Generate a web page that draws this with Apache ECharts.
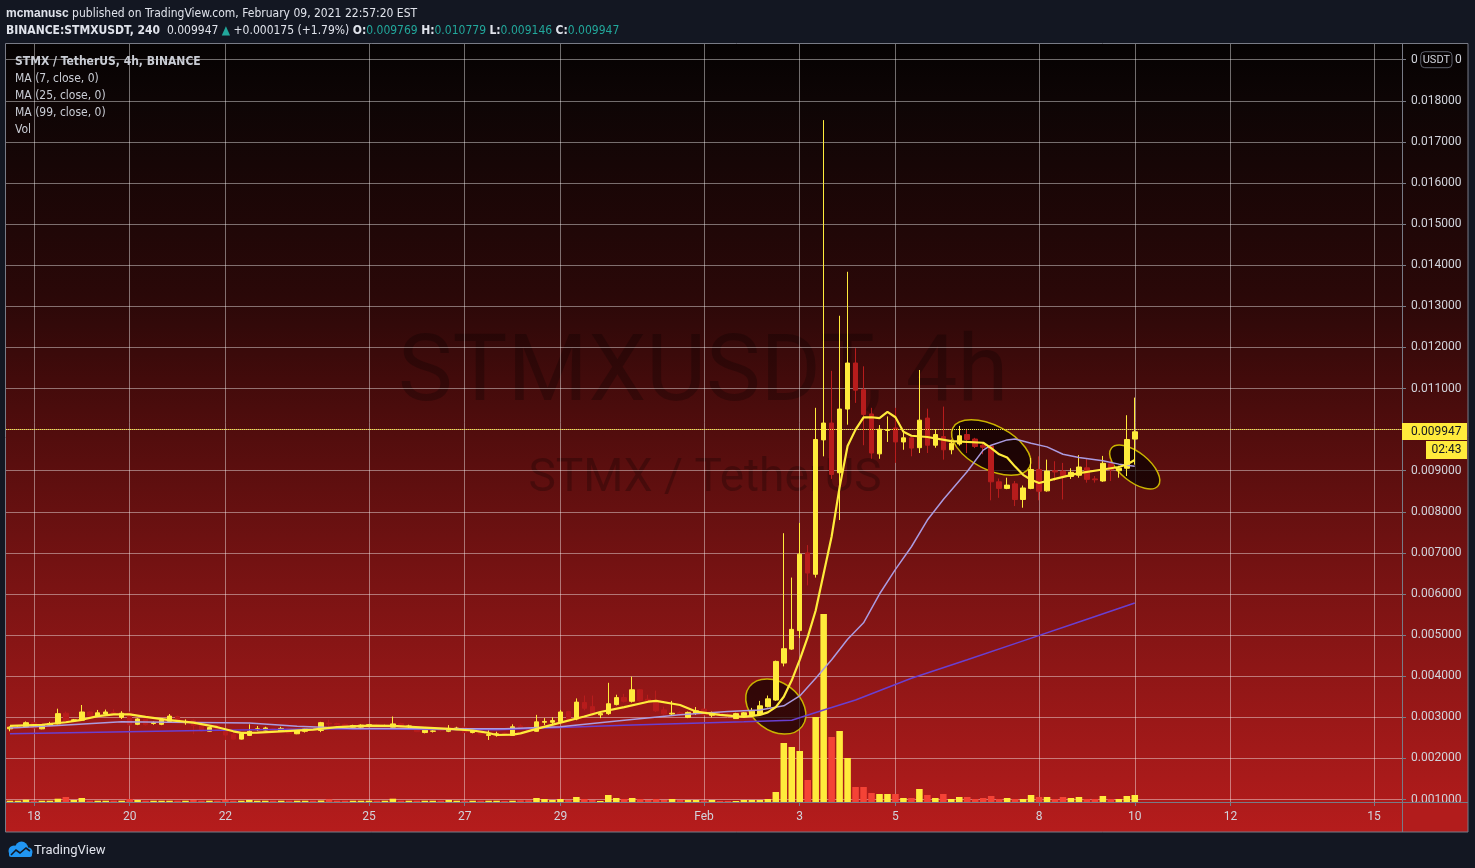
<!DOCTYPE html>
<html><head><meta charset="utf-8">
<script src="https://cdn.jsdelivr.net/npm/echarts@6/dist/echarts.min.js"></script>
<style>html,body{margin:0;padding:0;background:#131722;}#c{width:1475px;height:868px;}</style>
</head><body><div id="c"></div>
<script>
// ---------------- DATA ----------------
// 4h candles, first one = 2021-01-17 12:00 UTC
const opens = [.00272,.00275,.00277,.00287,.00272,.00281,.00284,.00310,.00292,.00293,.00313,.00303,.00308,.00312,.00300,.00310,.00283,.00296,.00285,.00283,.00290,.00302,.00287,.00293,.00280,.00266,.00280,.00269,.00259,.00247,
.00256,.00270,.00269,.00272,.00266,.00273,.00260,.00266,.00270,.00268,.00286,.00285,.00283,.00276,.00276,.00278,.00282,.00279,.00276,.00285,.00278,.00277,.00263,.00266,.00270,.00266,.00270,.00276,.00263,.00268,
.00256,.00258,.00262,.00256,.00279,.00275,.00266,.00288,.00288,.00289,.00314,.00296,.00336,.00326,.00306,.00309,.00331,.00348,.00339,.00367,.00344,.00340,.00318,.00308,.00311,.00300,.00310,.00320,.00305,.00310,
.00307,.00297,.00304,.00304,.00308,.00326,.00342,.00432,.00466,.00511,.00700,.00648,.00975,.01016,.00895,.01050,.01162,.01097,.01038,.00941,.00998,.01004,.00970,.00980,.00956,.01028,.00962,.00983,.00951,.00965,
.00988,.00977,.00962,.00960,.00873,.00857,.00868,.00830,.00857,.00903,.00851,.00900,.00899,.00886,.00889,.00907,.00880,.00875,.00917,.00900,.00906,.009769];
const closes = [.00276,.00276,.00287,.00274,.00281,.00285,.00309,.00290,.00294,.00313,.00303,.00311,.00313,.00307,.00310,.00282,.00296,.00282,.00287,.00293,.00303,.00288,.00289,.00280,.00267,.00275,.00270,.00257,.00247,.00260,
.00266,.00272,.00274,.00268,.00273,.00261,.00269,.00272,.00268,.00287,.00284,.00282,.00276,.00280,.00281,.00282,.00280,.00280,.00284,.00276,.00279,.00265,.00269,.00267,.00268,.00273,.00274,.00263,.00269,.00259,
.00258,.00260,.00259,.00277,.00273,.00266,.00289,.00290,.00292,.00313,.00295,.00337,.00322,.00306,.00309,.00333,.00348,.00339,.00367,.00341,.00340,.00316,.00308,.00310,.00307,.00312,.00316,.00306,.00310,.00306,
.00302,.00309,.00311,.00315,.00328,.00345,.00436,.00467,.00514,.00697,.00651,.00976,.01016,.00891,.01050,.01162,.01096,.01037,.00943,.01001,.01000,.00970,.00980,.00955,.01023,.00962,.00988,.00951,.00967,.00985,
.00976,.00959,.00957,.00873,.00857,.00865,.00830,.00858,.00903,.00850,.00899,.00897,.00888,.00896,.00909,.00879,.00878,.00918,.00902,.00906,.00976,.009947];
const lows = [.00266,.00274,.00276,.00271,.00271,.00279,.00283,.00288,.00290,.00292,.00301,.00302,.00307,.00305,.00296,.00280,.00281,.00280,.00282,.00281,.00288,.00286,.00282,.00259,.00265,.00265,.00268,.00245,.00246,.00246,
.00255,.00267,.00268,.00266,.00265,.00260,.00259,.00263,.00266,.00264,.00276,.00280,.00274,.00275,.00271,.00276,.00277,.00277,.00275,.00274,.00271,.00264,.00261,.00263,.00265,.00264,.00269,.00262,.00261,.00258,
.00245,.00253,.00257,.00255,.00271,.00265,.00265,.00281,.00283,.00286,.00293,.00293,.00317,.00303,.00298,.00306,.00329,.00336,.00336,.00338,.00337,.00313,.00304,.00304,.00303,.00298,.00306,.00304,.00300,.00304,
.00300,.00296,.00302,.00302,.00306,.00324,.00340,.00424,.00464,.00493,.00621,.00640,.00935,.00880,.00780,.01012,.01065,.00962,.00929,.00929,.00970,.00919,.00951,.00935,.00943,.00943,.00956,.00927,.00940,.00961,
.00943,.00955,.00940,.00828,.00834,.00855,.00814,.00810,.00855,.00828,.00849,.00875,.00830,.00880,.00883,.00871,.00871,.00873,.00875,.00883,.00887,.009146];
const highs = [.00278,.00278,.00290,.00289,.00282,.00289,.00321,.00314,.00296,.00330,.00315,.00318,.00319,.00320,.00315,.00314,.00298,.00297,.00290,.00295,.00308,.00304,.00295,.00295,.00282,.00277,.00283,.00270,.00261,.00262,
.00283,.00279,.00277,.00274,.00277,.00275,.00270,.00274,.00272,.00289,.00294,.00287,.00285,.00282,.00283,.00283,.00285,.00282,.00302,.00287,.00282,.00278,.00271,.00273,.00273,.00281,.00277,.00277,.00270,.00270,
.00269,.00265,.00264,.00283,.00283,.00277,.00306,.00298,.00300,.00318,.00316,.00346,.00353,.00353,.00314,.00384,.00355,.00357,.00399,.00369,.00355,.00365,.00326,.00340,.00315,.00314,.00325,.00322,.00314,.00313,
.00310,.00311,.00313,.00323,.00340,.00353,.00438,.00748,.00640,.00773,.00719,.01053,.01753,.01143,.01277,.01384,.01198,.01154,.01053,.01011,.01032,.01053,.00992,.00982,.01145,.01051,.01001,.01056,.00976,.01009,
.01002,.00980,.00968,.00962,.00881,.00883,.00875,.00864,.00931,.00935,.00927,.00923,.00919,.00906,.00938,.00930,.00887,.00936,.00927,.00912,.01035,.010779];
// volume (relative units, millions)
const volumes = [1.3,1.3,2.3,1.3,1.3,1.3,3.3,5,2,4,1.3,1.3,1.3,1.3,1.3,3,2,1.3,1.3,1.3,1.3,1.3,1.3,2,1.3,1.3,1.3,2.3,1.3,1.3,
2,1.3,1.3,1.3,1.3,1.3,1.3,1.3,1.3,1.5,2.7,1.3,1.3,1.3,1.3,1.3,1.3,1.3,3.3,1.3,1.3,1.3,1.3,1.3,1.3,2,1.3,1.3,1.3,1.3,
1.3,1.3,1,1.3,1.7,1.7,4,3,2,3,2,5,3,2,1,7,4,3,4,3,2,3,2,3,2,2,2,1.5,2,1,
1,1,2,2,2,3,10,59,55,51,22,85,188,65,71,44,15,15,9,8,8,8,4,4,13,7,4,8,3,5,
5,3,4,6,3,4,3,3,7,5,5,3,5,4,5,3,3,6,3,3,6,7];
// moving averages: [candle index, price]
const ma7Pts = [[0,.00279],[4,.00282],[7,.00288],[9,.00294],[11,.00303],[13,.00307],[15,.00307],[17,.00301],[20,.00293],[23,.00287],[26,.00276],[28,.00266],[29,.00262],[31,.00263],[34,.00266],[38,.00270],[41,.00276],[45,.00280],[48,.00279],[52,.00275],[55,.00272],[58,.00268],[60,.00262],[61,.00257],[63,.00258],[64,.00261],[66,.00272],[69,.00287],[72,.00302],[74,.00313],[77,.00325],[80,.00338],[81,.00340],[84,.00330],[86,.00314],[89,.00306],[92,.00301],[94,.00306],[95,.00312],[96,.00325],[97,.00350],[98,.00390],[99,.00440],[100,.00495],[101,.00560],[102,.00650],[103,.00740],[104,.00860],[105,.00960],[106,.01000],[107,.01030],[108,.01030],[109,.01028],[110,.01043],[111,.01030],[112,.00995],[113,.00985],[115,.00982],[118,.00972],[122,.00968],[123,.00955],[124,.00940],[125,.00932],[126,.00910],[127,.00890],[128,.00878],[129,.00870],[131,.00880],[134,.00894],[137,.00903],[139,.00909],[140,.00915],[141,.00926]];
const ma25Pts = [[0,.00274],[6,.00280],[14,.00289],[20,.00288],[30,.00286],[36,.00278],[43,.00273],[49,.00273],[58,.00272],[62,.00272],[69,.00277],[77,.00293],[84,.00306],[90,.00314],[94,.00318],[97,.00328],[99,.00352],[101,.00395],[103,.00440],[105,.00490],[107,.00530],[109,.00600],[111,.00660],[113,.00715],[115,.00780],[117,.00830],[120,.00898],[122,.00950],[123,.00962],[125,.00975],[126,.00977],[128,.00967],[130,.00958],[132,.00940],[134,.00932],[137,.00924],[139,.00916],[141,.00911]];
const ma99Pts = [[0,.00260],[24,.00268],[40,.00272],[61,.00270],[77,.00281],[92,.00289],[98,.00293],[102,.00318],[106,.00342],[113,.00395],[120,.00440],[127,.00486],[134,.00532],[141,.00578]];
// x axis tick labels (category -> label)
const tickCats = ['01-18 00','01-20 00','01-22 00','01-25 00','01-27 00','01-29 00','02-01 00','02-03 00','02-05 00','02-08 00','02-10 00','02-12 00','02-15 00'];
const tickLabels = ['18','20','22','25','27','29','Feb','3','5','8','10','12','15'];
// price axis
const priceMin = 0.001, priceMax = 0.019, priceStep = 0.001;
// hand-drawn annotation ellipses: centre (candle index, price)
const annotIdx = [95.6, 123.2, 141.0];
const annotPrice = [0.003263, 0.009564, 0.00909];
const annotSize = [[33,24,37],[43,22,27],[30,14.5,39]]; // rx, ry (px), tilt deg

// ---------------- BUILD ----------------
const startMs = Date.UTC(2021,0,17,12);
const slotCount = 175;
const pad = n => String(n).padStart(2,'0');
const categories = [];
for (let i = 0; i < slotCount; i++) {
  const d = new Date(startMs + i*4*3600e3);
  categories.push(pad(d.getUTCMonth()+1)+'-'+pad(d.getUTCDate())+' '+pad(d.getUTCHours()));
}
const tickMap = {}; tickCats.forEach((c,k)=>tickMap[c]=tickLabels[k]);
const isTick = (idx, val) => tickMap[val] !== undefined;

const UP = '#ffeb3b', DOWN = '#b71c1c', VUP = '#ffeb3b', VDOWN = '#f44336';
const FONT = 'Roboto, "DejaVu Sans", sans-serif';
const NARROW = '"Liberation Sans Narrow", "DejaVu Sans Condensed", Roboto, sans-serif';
const TXT = '#d1d4dc';

const candleData = opens.map((o,i)=>[o, closes[i], lows[i], highs[i]]);
const volData = volumes.map((v,i)=>({value:v, itemStyle:{color: closes[i] >= opens[i] ? VUP : VDOWN}}));
const last = candleData.length - 1;

const GL = 6, GR = 73;
const chart = echarts.init(document.getElementById('c'), null, {renderer:'canvas'});
const option = {
  animation: false,
  backgroundColor: '#131722',
  grid: [
    {left: GL, right: GR, top: 43, bottom: 66},                 // candles
    {left: GL, right: GR, bottom: 66, height: 200},             // volume
    {left: GL, right: GR, top: 59.7, height: 739.8}             // price scale / horizontal grid
  ],
  xAxis: [
    {type:'category', gridIndex:0, data:categories, boundaryGap:true,
     axisLine:{show:false},
     axisTick:{show:true, alignWithLabel:true, interval:isTick, length:4, lineStyle:{color:'#787b86'}},
     axisLabel:{interval:isTick, formatter:v=>tickMap[v]||'', color:TXT, fontFamily:FONT, fontSize:12, margin:9},
     splitLine:{show:false}},
    {type:'category', gridIndex:1, data:categories, boundaryGap:true, show:false},
    {type:'category', gridIndex:2, data:categories, boundaryGap:true, show:false}
  ],
  yAxis: [
    {type:'value', gridIndex:0, min:0.00094, max:0.019406, show:false, splitLine:{show:false}},
    {type:'value', gridIndex:1, min:0, max:200, show:false, splitLine:{show:false}},
    {type:'value', gridIndex:2, position:'right', min:priceMin, max:priceMax, interval:priceStep,
     axisLine:{show:false},
     axisTick:{show:true, length:4, lineStyle:{color:'#787b86'}},
     axisLabel:{color:TXT, fontFamily:FONT, fontSize:12, margin:9,
       formatter: v => Math.abs(v-0.019) < 1e-9 ? '0 {u|USDT} 0' : v.toFixed(6),
       rich:{u:{color:TXT, fontFamily:FONT, fontSize:11, borderColor:'#5d606b', borderWidth:1, borderRadius:4, padding:[3,2,2,2]}}},
     splitLine:{show:true, lineStyle:{color:'rgba(255,255,255,0.42)', width:1}}}
  ],
  series: [
    {type:'line', name:'vgrid', xAxisIndex:0, yAxisIndex:0, data:[], silent:true, z:1,
     markLine:{silent:true, symbol:['none','none'], z:1, label:{show:false},
       lineStyle:{color:'rgba(255,255,255,0.42)', width:1, type:'solid'},
       data: tickCats.map(c=>({xAxis:c}))}},
    {type:'bar', name:'Vol', xAxisIndex:1, yAxisIndex:1, data:volData, barWidth:'82%', z:2},
    {type:'candlestick', name:'STMXUSDT', xAxisIndex:0, yAxisIndex:0, data:candleData, barWidth:5,
     itemStyle:{color:UP, color0:DOWN, borderColor:UP, borderColor0:DOWN, borderWidth:1},
     markLine:{silent:true, symbol:['none','none'], label:{show:false},
       lineStyle:{color:UP, width:1, type:'dotted'}, data:[{yAxis: closes[last]}]}},
    {type:'line', name:'MA99', xAxisIndex:0, yAxisIndex:0, data:ma99Pts, showSymbol:false, lineStyle:{color:'#6a3fd0', width:1.5}},
    {type:'line', name:'MA25', xAxisIndex:0, yAxisIndex:0, data:ma25Pts, showSymbol:false, lineStyle:{color:'#ab9be0', width:1.5}},
    {type:'line', name:'MA7', xAxisIndex:0, yAxisIndex:0, data:ma7Pts, showSymbol:false, lineStyle:{color:'#ffeb3b', width:2.2}}
  ]
};
chart.setOption(option);

function px(i,p){ return chart.convertToPixel({xAxisIndex:0, yAxisIndex:0}, [i,p]); }
const g = [];
// background gradient of the chart pane
g.push({type:'rect', z:-100, silent:true, shape:{x:6, y:43, width:1462, height:789},
  style:{fill: new echarts.graphic.LinearGradient(0,0,0,1,[
    {offset:0, color:'#050202'},{offset:0.07,color:'#0d0505'},{offset:0.32,color:'#2a0808'},
    {offset:0.5,color:'#530d0d'},{offset:0.72,color:'#801414'},{offset:0.86,color:'#9b1818'},{offset:1,color:'#b51c1c'}])}});
// watermark
g.push({type:'text', z:-50, silent:true, style:{text:'STMXUSDT, 4h', x:703, y:377, textAlign:'center', textVerticalAlign:'middle', font:'92px '+FONT, fill:'rgba(0,0,0,0.25)'}});
g.push({type:'text', z:-50, silent:true, style:{text:'STMX / TetherUS', x:705, y:479, textAlign:'center', textVerticalAlign:'middle', font:'46px '+FONT, fill:'rgba(0,0,0,0.25)'}});
// annotation ellipses
annotIdx.forEach((ix,k)=>{
  const c = px(ix, annotPrice[k]); const s = annotSize[k];
  g.push({type:'ellipse', z:1, silent:true, x:c[0], y:c[1], rotation:-s[2]*Math.PI/180,
    shape:{cx:0, cy:0, rx:s[0], ry:s[1]}, style:{fill:'rgba(0,0,0,0.66)', stroke:'#c9b300', lineWidth:1.5}});
});
// frame lines
g.push({type:'rect', z:60, silent:true, shape:{x:1402.5, y:802.5, width:65, height:29}, style:{fill:'#b21c1c'}});
g.push({type:'rect', z:61, silent:true, shape:{x:5.5, y:43.5, width:1462.5, height:788.5}, style:{fill:null, stroke:'#787b86', lineWidth:1}});
g.push({type:'line', z:61, silent:true, shape:{x1:6, y1:802.5, x2:1468, y2:802.5}, style:{stroke:'#787b86', lineWidth:1}});
g.push({type:'line', z:61, silent:true, shape:{x1:1402.5, y1:43, x2:1402.5, y2:832}, style:{stroke:'#787b86', lineWidth:1}});
// price tag
const pLast = px(last, closes[last]);
g.push({type:'rect', z:70, silent:true, shape:{x:1402, y:Math.round(pLast[1])-9, width:65, height:17}, style:{fill:'#ffeb3b'}});
g.push({type:'text', z:71, silent:true, style:{text:closes[last].toFixed(6), x:1411, y:Math.round(pLast[1]), textVerticalAlign:'middle', font:'12px '+FONT, fill:'#131722'}});
g.push({type:'rect', z:70, silent:true, shape:{x:1426, y:Math.round(pLast[1])+9, width:41, height:18}, style:{fill:'#ffeb3b'}});
g.push({type:'text', z:71, silent:true, style:{text:'02:43', x:1446.5, y:Math.round(pLast[1])+18, textAlign:'center', textVerticalAlign:'middle', font:'12px '+FONT, fill:'#131722'}});
// header
const o=opens[last], h=highs[last], l=lows[last], cl=closes[last];
const chg = 0.000175;
g.push({type:'text', z:80, silent:true, style:{x:6, y:14, textVerticalAlign:'middle', font:'12px '+NARROW, fill:'#e0e3eb',
  text:'{b|mcmanusc} published on TradingView.com, February 09, 2021 22:57:20 EST',
  rich:{b:{fontWeight:'bold', font:'bold 12px '+NARROW, fill:'#e0e3eb'}}}});
g.push({type:'text', z:80, silent:true, style:{x:6, y:31, textVerticalAlign:'middle', font:'12px '+NARROW, fill:'#e0e3eb',
  text:'{b|BINANCE:STMXUSDT, 240}  '+cl.toFixed(6)+' {t|▲} +'+chg.toFixed(6)+' (+1.79%) {b|O:}{t|'+o.toFixed(6)+'} {b|H:}{t|'+h.toFixed(6)+'} {b|L:}{t|'+l.toFixed(6)+'} {b|C:}{t|'+cl.toFixed(6)+'}',
  rich:{b:{font:'bold 12px '+NARROW, fill:'#e0e3eb'}, t:{font:'12px '+NARROW, fill:'#22a79b'}}}});
// pane legend
['STMX / TetherUS, 4h, BINANCE','MA (7, close, 0)','MA (25, close, 0)','MA (99, close, 0)','Vol'].forEach((t,k)=>{
  g.push({type:'text', z:80, silent:true, style:{text:t, x:15, y:62+k*17, textVerticalAlign:'middle',
    font:(k===0?'bold ':'')+'12px '+NARROW, fill:'#c9ccd4'}});
});
// TradingView logo
g.push({type:'circle', z:80, silent:true, shape:{cx:14, cy:851, r:5.5}, style:{fill:'#2196f3'}});
g.push({type:'circle', z:80, silent:true, shape:{cx:21.5, cy:848, r:6.5}, style:{fill:'#2196f3'}});
g.push({type:'circle', z:80, silent:true, shape:{cx:28, cy:852, r:4.5}, style:{fill:'#2196f3'}});
g.push({type:'rect', z:80, silent:true, shape:{x:9, y:851, width:23, height:6, r:2}, style:{fill:'#2196f3'}});
g.push({type:'polyline', z:81, silent:true, shape:{points:[[11,855],[16,850],[20,853],[26,848],[30,851]]}, style:{stroke:'#131722', lineWidth:1.6, fill:null}});
g.push({type:'text', z:80, silent:true, style:{text:'TradingView', x:34, y:851, textVerticalAlign:'middle', font:'13px '+FONT, fill:'#e0e3eb'}});

chart.setOption({graphic:{elements:g}});
</script></body></html>
